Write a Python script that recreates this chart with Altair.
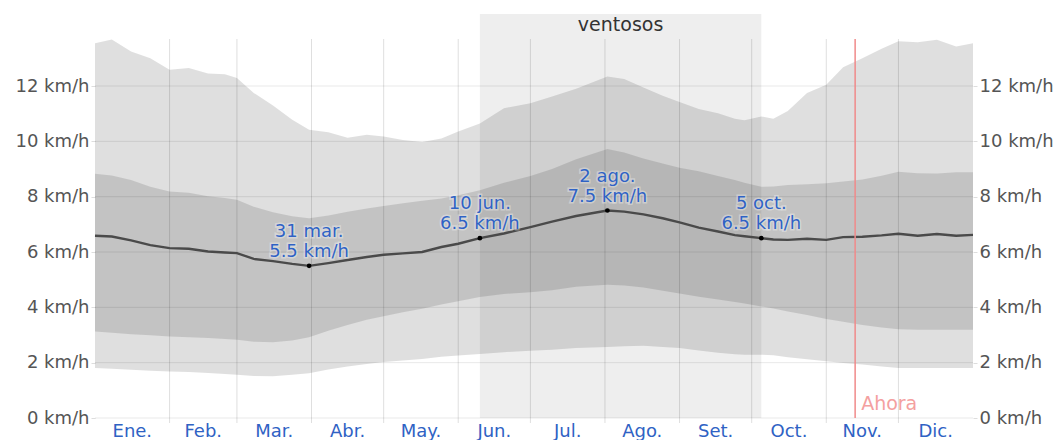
import altair as alt
import pandas as pd

# ---- data (day of year 0..365) ----
days = [0, 7, 15, 23, 31, 39, 47, 54, 59, 66, 74, 82, 89, 97, 105, 113, 120, 128, 136, 144,
        151, 160, 170, 181, 190, 200, 213, 220, 228, 236, 243, 251, 259, 266, 270, 277, 282,
        288, 296, 304, 311, 319, 327, 334, 342, 350, 358, 365]
p90 = [13.55, 13.68, 13.25, 13.0, 12.59, 12.65, 12.45, 12.43, 12.29, 11.75, 11.3, 10.78, 10.42,
       10.33, 10.13, 10.24, 10.18, 10.05, 9.98, 10.1, 10.36, 10.65, 11.2, 11.38, 11.62, 11.9,
       12.34, 12.25, 11.95, 11.65, 11.42, 11.17, 11.02, 10.82, 10.76, 10.9, 10.82, 11.1, 11.75,
       12.05, 12.68, 13.0, 13.35, 13.62, 13.58, 13.67, 13.43, 13.55]
p75 = [8.83, 8.77, 8.6, 8.36, 8.19, 8.14, 8.02, 7.95, 7.89, 7.64, 7.44, 7.29, 7.22, 7.32, 7.46,
       7.57, 7.66, 7.76, 7.85, 7.93, 8.05, 8.23, 8.5, 8.75, 9.0, 9.35, 9.72, 9.6, 9.38, 9.2,
       9.05, 8.92, 8.75, 8.6, 8.5, 8.36, 8.37, 8.42, 8.45, 8.49, 8.55, 8.62, 8.76, 8.9, 8.85,
       8.84, 8.88, 8.88]
median = [6.59, 6.56, 6.42, 6.25, 6.14, 6.12, 6.02, 5.98, 5.96, 5.75, 5.67, 5.57, 5.5, 5.6, 5.71,
          5.82, 5.9, 5.95, 6.0, 6.18, 6.3, 6.5, 6.67, 6.9, 7.1, 7.3, 7.5, 7.46, 7.36, 7.22, 7.07,
          6.88, 6.74, 6.61, 6.57, 6.5, 6.45, 6.44, 6.48, 6.44, 6.54, 6.55, 6.6, 6.66, 6.59, 6.65,
          6.59, 6.62]
p25 = [3.13, 3.08, 3.03, 2.99, 2.95, 2.92, 2.89, 2.86, 2.83, 2.76, 2.74, 2.8, 2.92, 3.15, 3.36,
       3.55, 3.68, 3.82, 3.95, 4.1, 4.22, 4.37, 4.48, 4.55, 4.62, 4.74, 4.82, 4.79, 4.72, 4.6,
       4.5, 4.38, 4.28, 4.19, 4.14, 4.03, 3.96, 3.85, 3.72, 3.58, 3.48, 3.36, 3.27, 3.21, 3.19,
       3.19, 3.19, 3.19]
p10 = [1.81, 1.78, 1.74, 1.71, 1.68, 1.66, 1.63, 1.59, 1.56, 1.52, 1.51, 1.56, 1.62, 1.75, 1.86,
       1.95, 2.02, 2.08, 2.13, 2.21, 2.26, 2.31, 2.38, 2.43, 2.47, 2.53, 2.57, 2.59, 2.61, 2.57,
       2.53, 2.44, 2.36, 2.3, 2.29, 2.29, 2.27, 2.2, 2.12, 2.05, 1.99, 1.93, 1.86, 1.81, 1.81,
       1.81, 1.81, 1.81]

ann_days = [89, 160, 213, 277]
ann_vals = [5.5, 6.5, 7.5, 6.5]
ann_dates = ["31 mar.", "10 jun.", "2 ago.", "5 oct."]

month_names = ["Ene.", "Feb.", "Mar.", "Abr.", "May.", "Jun.", "Jul.", "Ago.", "Set.", "Oct.", "Nov.", "Dic."]
month_starts = [0, 31, 59, 90, 120, 151, 181, 212, 243, 273, 304, 334, 365]
y_ticks = [0, 2, 4, 6, 8, 10, 12]

windy_start, windy_end = 160, 277
now_day = 316

W, H = 878, 379
FONT = "DejaVu Sans"
BLUE = "#2f62c4"

df = pd.DataFrame({"day": days, "p90": p90, "p75": p75, "median": median, "p25": p25, "p10": p10})
ann = pd.DataFrame({"day": ann_days, "v": ann_vals,
                    "label": [f"{d}\n{v:.1f} km/h" for d, v in zip(ann_dates, ann_vals)]})
months = pd.DataFrame({"mid": [(month_starts[i] + month_starts[i + 1]) / 2 for i in range(12)],
                       "name": month_names})
mlines = pd.DataFrame({"d": month_starts[1:-1]})
grid = pd.DataFrame({"v": y_ticks})
windy = pd.DataFrame({"a": [windy_start], "b": [windy_end], "mid": [(windy_start + windy_end) / 2],
                      "t": ["ventosos"]})
now = pd.DataFrame({"d": [now_day], "t": ["Ahora"]})

xs = alt.Scale(domain=[0, 365], nice=False, zero=False)
ys = alt.Scale(domain=[0, 13.7], nice=False, zero=True)

def X(field):
    return alt.X(field, type="quantitative", scale=xs, axis=None)

def Y(field, axis=None):
    return alt.Y(field, type="quantitative", scale=ys, axis=axis)

ax_common = dict(values=y_ticks, labelExpr="datum.value + ' km/h'", grid=False, domain=False,
                 tickColor="#dddddd", tickSize=4, labelFont=FONT, labelFontSize=18,
                 labelColor="#555555", labelPadding=2, title=None)

windy_rect = alt.Chart(windy).mark_rect(color="#eeeeee").encode(
    x=X("a"), x2="b", y=alt.value(-25), y2=alt.value(H))
windy_text = alt.Chart(windy).mark_text(font=FONT, fontSize=19, color="#333333", baseline="middle").encode(
    x=X("mid"), y=alt.value(-14), text="t:N")

outer = alt.Chart(df).mark_area(color="black", opacity=0.125).encode(
    x=X("day"), y=Y("p10", alt.Axis(orient="left", **ax_common)), y2="p90")
inner = alt.Chart(df).mark_area(color="black", opacity=0.12).encode(
    x=X("day"), y=Y("p25"), y2="p75")

hgrid = alt.Chart(grid).mark_rule(color="black", opacity=0.09).encode(
    y=Y("v"), x=alt.value(0), x2=alt.value(W))
vgrid = alt.Chart(mlines).mark_rule(color="black", opacity=0.13).encode(
    x=X("d"), y=alt.value(0), y2=alt.value(H + 5))

line = alt.Chart(df).mark_line(color="#4a4a4a", strokeWidth=2.4).encode(
    x=X("day"), y=Y("median", alt.Axis(orient="right", **ax_common)))

pts = alt.Chart(ann).mark_point(filled=True, color="black", size=22, opacity=1).encode(
    x=X("day"), y=Y("v"))
halo = alt.Chart(ann).mark_text(font=FONT, fontSize=18, lineBreak="\n", lineHeight=20, dy=-34,
                                baseline="middle", stroke="white", strokeWidth=3, strokeOpacity=0.55,
                                color="white", opacity=0.6).encode(x=X("day"), y=Y("v"), text="label:N")
labels = alt.Chart(ann).mark_text(font=FONT, fontSize=18, lineBreak="\n", lineHeight=20, dy=-34,
                                  baseline="middle", color=BLUE).encode(x=X("day"), y=Y("v"), text="label:N")

now_rule = alt.Chart(now).mark_rule(color="#f08a8a", strokeWidth=1.5).encode(
    x=X("d"), y=alt.value(0), y2=alt.value(H))
now_text = alt.Chart(now).mark_text(font=FONT, fontSize=19, color="#f4a0a0", align="left",
                                    baseline="middle", dx=6).encode(
    x=X("d"), y=alt.value(H - 14), text="t:N")

month_text = alt.Chart(months).mark_text(font=FONT, fontSize=18, color=BLUE, baseline="middle").encode(
    x=X("mid"), y=alt.value(H + 14), text="name:N")

chart = alt.layer(
    windy_rect, outer, inner, hgrid, vgrid, windy_text, line, pts, halo, labels,
    now_rule, now_text, month_text
).resolve_axis(y="independent").properties(
    width=W, height=H,
    autosize=alt.AutoSizeParams(type="none"),
    padding={"left": 87, "top": 31, "right": 80, "bottom": 22},
).configure_view(stroke=None)

chart.save("out.html", embed_options={"renderer": "svg", "actions": False})
